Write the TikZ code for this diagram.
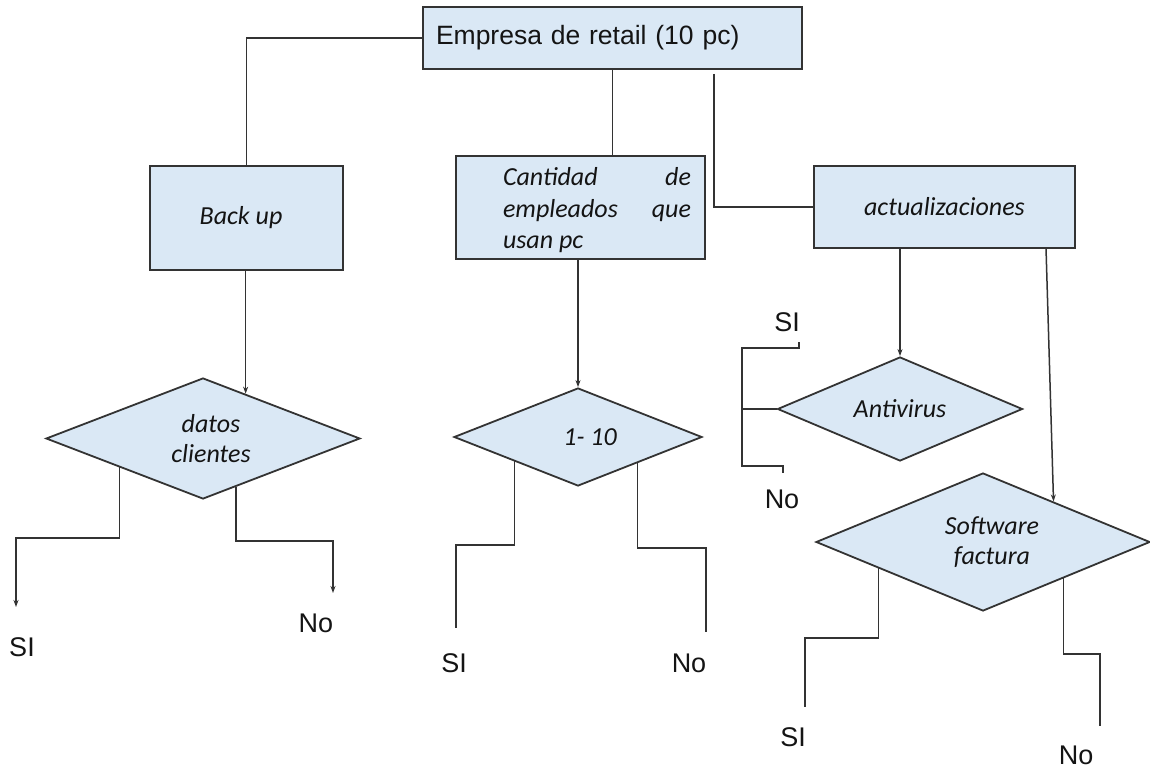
\documentclass[tikz,border=0pt]{standalone}
\usepackage{fontspec}
\setmainfont{Liberation Sans}
\newfontfamily\carlito{Carlito}
\usetikzlibrary{shapes.geometric,arrows.meta,calc}
\definecolor{boxfill}{HTML}{DAE8F5}
\definecolor{linec}{HTML}{333333}
\definecolor{textc}{HTML}{141414}
\begin{document}
\begin{tikzpicture}[x=1pt,y=-1pt,
  box/.style={draw=linec, line width=1.8pt, fill=boxfill, inner sep=0pt, text=textc,
    font=\carlito\itshape\fontsize{26}{31.5}\selectfont},
  dia/.style={diamond, draw=linec, line width=1.8pt, fill=boxfill, inner sep=0pt, text=textc,
    align=center, font=\carlito\itshape\fontsize{26}{30}\selectfont},
  conn/.style={draw=linec, line width=1.5pt},
  arr/.style={conn, -{Stealth[length=7pt,width=5pt]}},
  lbl/.style={font=\fontsize{27}{30}\selectfont, text=textc, inner sep=0pt}
]
\useasboundingbox (0,0) rectangle (1150,770);
\fill[white] (0,0) rectangle (1150,770);

% boxes
\node[box, font=\fontsize{26.5}{30}\selectfont, minimum height=62pt, text width=353pt,
      inner xsep=13pt, align=left] (top) at (612.5,38) {Empresa de retail (10 pc)};
\node[box, minimum width=193pt, minimum height=104pt] (backup) at (246.5,218) {\hspace*{-11pt}Back up};
\node[box, minimum width=249pt, minimum height=103pt] (cant) at (580.5,207.5)
  {\hspace*{33pt}\parbox{188pt}{\vspace*{6pt}Cantidad\hfill de\\empleados\hfill que\\usan pc}};
\node[box, minimum width=261pt, minimum height=82pt] (act) at (944.5,207) {actualizaciones};

% diamonds
\node[dia, aspect=2.57, minimum width=314pt, minimum height=121pt] (datos) at (203,438.5) {\hspace*{16pt}datos\\\hspace*{16pt}clientes};
\node[dia, aspect=2.5, minimum width=248pt, minimum height=98pt] (onet) at (578,437) {\hspace*{24pt}1- 10};
\node[dia, aspect=2.35, minimum width=245pt, minimum height=104pt] (anti) at (900,409) {Antivirus};
\node[dia, aspect=2.4, minimum width=334pt, minimum height=138pt] (soft) at (983,542) {\hspace*{18pt}Software\\\hspace*{18pt}factura};

% connectors from the top box
\draw[conn] (top.west) -| (backup.north);
\draw[conn] (top.south) -- (top.south |- cant.north);
\coordinate (rs) at (714,74);
\draw[conn] (rs) |- (act.west);

% box to diamond arrows
\coordinate (dt) at ($(datos.north)!0.27!(datos.east)$);
\draw[arr] (dt |- backup.south) -- (dt);
\draw[arr] (onet.north |- cant.south) -- (onet.north);
\draw[arr] (anti.north |- act.south) -- (anti.north);
\coordinate (as) at (1046,248);
\coordinate (st) at ($(soft.north)!0.42!(soft.east)$);
\draw[arr] (as) -- (st);

% branch start points
\coordinate (dA) at ($(datos.west)!0.47!(datos.south)$);
\coordinate (dB) at ($(datos.south)!0.21!(datos.east)$);
\coordinate (oA) at ($(onet.west)!0.49!(onet.south)$);
\coordinate (oB) at ($(onet.south)!0.476!(onet.east)$);
\coordinate (sA) at ($(soft.west)!0.377!(soft.south)$);
\coordinate (sB) at ($(soft.south)!0.48!(soft.east)$);
% branch end points
\coordinate (dAe) at (16,607);
\coordinate (dBe) at (333,593);
\coordinate (oAe) at (456,628);
\coordinate (oBe) at (706,632);
\coordinate (sAe) at (805,707);
\coordinate (sBe) at (1100,726);

\draw[arr] (dA) -- (dA |- 0,538) -| (dAe);
\draw[arr] (dB) -- (dB |- 0,541) -| (dBe);
\draw[conn] (oA) -- (oA |- 0,545) -| (oAe);
\draw[conn] (oB) -- (oB |- 0,548) -| (oBe);
\draw[conn] (sA) -- (sA |- 0,638) -| (sAe);
\draw[conn] (sB) -- (sB |- 0,654) -| (sBe);

% antivirus bracket
\coordinate (bt) at (799,342);
\coordinate (bb) at (783,473);
\draw[conn] (bt) |- (742,348) -- (742,466) -| (bb);
\draw[conn] (anti.west) -- (anti.west -| 742,0);

% labels
\node[lbl] (l1) at (22,647) {SI};
\node[lbl] (l2) at (316,623) {No};
\node[lbl] (l3) at (454,663) {SI};
\node[lbl] (l4) at (689,663) {No};
\node[lbl] (l5) at (787,322) {SI};
\node[lbl] (l6) at (782,499) {No};
\node[lbl] (l7) at (793,737) {SI};
\node[lbl] (l8) at (1076,755) {No};
\end{tikzpicture}
\end{document}
